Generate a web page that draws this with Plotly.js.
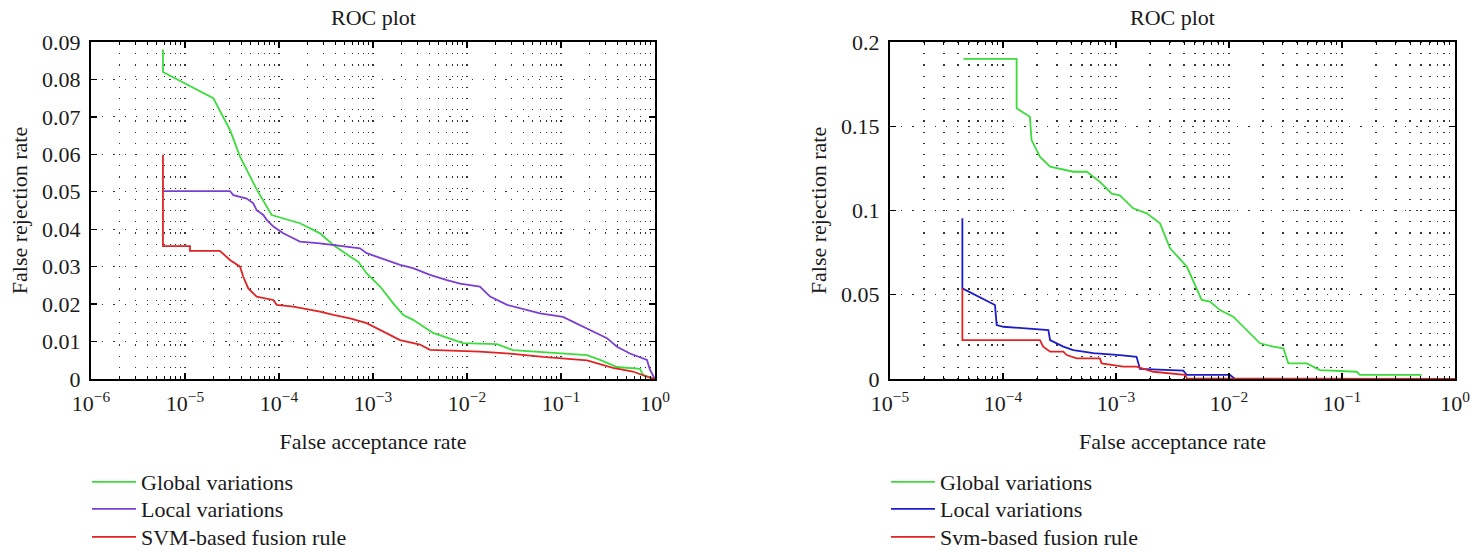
<!DOCTYPE html>
<html>
<head>
<meta charset="utf-8">
<script src="https://cdn.plot.ly/plotly-3.0.1.min.js"></script>
<style>html,body{margin:0;padding:0;background:#fff;}#chart{width:1476px;height:553px;}</style>
</head>
<body>
<div id="chart"></div>
<script>
// ---------- Left panel data ----------
const leftGlobalX = [5.83e-6, 5.83e-6, 2.0e-5, 3.01e-5, 3.85e-5, 5.83e-5, 8.35e-5, 1.67e-4, 2.73e-4, 3.78e-4, 5.69e-4, 6.98e-4, 8.57e-4, 1.19e-3, 1.64e-3, 2.10e-3, 2.67e-3, 4.35e-3, 9.06e-3, 2.08e-2, 3.08e-2, 8.22e-2, 0.189, 0.260, 0.394, 0.692, 0.745, 1];
const leftGlobalY = [0.088, 0.082, 0.075, 0.0665, 0.0594, 0.0505, 0.0438, 0.0416, 0.0389, 0.0358, 0.0327, 0.0313, 0.0282, 0.0247, 0.0202, 0.0171, 0.0158, 0.0123, 0.0096, 0.0093, 0.0077, 0.0069, 0.0064, 0.0051, 0.0032, 0.0027, 0.0011, 0];

const leftLocalX = [5.83e-6, 3.01e-5, 3.27e-5, 4.53e-5, 5.33e-5, 5.78e-5, 6.81e-5, 7.40e-5, 8.71e-5, 1.11e-4, 1.42e-4, 1.67e-4, 2.73e-4, 3.78e-4, 7.28e-4, 8.57e-4, 1.29e-3, 1.94e-3, 2.67e-3, 4.04e-3, 6.12e-3, 8.43e-3, 1.37e-2, 1.76e-2, 2.67e-2, 4.35e-2, 5.98e-2, 0.105, 0.159, 0.219, 0.308, 0.394, 0.542, 0.822, 0.885, 1];
const leftLocalY = [0.0502, 0.0502, 0.0491, 0.0482, 0.0469, 0.0451, 0.0438, 0.0425, 0.0407, 0.0389, 0.0376, 0.0367, 0.0362, 0.0358, 0.0349, 0.0336, 0.0320, 0.0305, 0.0296, 0.0278, 0.0264, 0.0255, 0.0247, 0.0220, 0.0198, 0.0184, 0.0175, 0.0166, 0.0144, 0.0126, 0.0109, 0.0086, 0.0068, 0.0051, 0.0024, 0];

const leftFusionX = [5.83e-6, 5.83e-6, 1.13e-5, 1.13e-5, 2.35e-5, 3.01e-5, 3.85e-5, 4.17e-5, 4.71e-5, 5.79e-5, 8.69e-5, 9.46e-5, 1.42e-4, 2.73e-4, 3.78e-4, 5.69e-4, 8.57e-4, 1.29e-3, 1.94e-3, 3.16e-3, 4.04e-3, 1.37e-2, 2.86e-2, 6.44e-2, 0.189, 0.357, 0.583, 0.822, 0.953, 1];
const leftFusionY = [0.0598, 0.0355, 0.0355, 0.0342, 0.0342, 0.0318, 0.0300, 0.0273, 0.0242, 0.0220, 0.0211, 0.0198, 0.0193, 0.0180, 0.0171, 0.0162, 0.0149, 0.0126, 0.0104, 0.0092, 0.0078, 0.0073, 0.0068, 0.0059, 0.0050, 0.0030, 0.0020, 0.0006, 0, 0];

// ---------- Right panel data ----------
const rightGlobalX = [4.46e-5, 1.32e-4, 1.32e-4, 1.73e-4, 1.79e-4, 2.12e-4, 2.61e-4, 4.19e-4, 5.51e-4, 7.21e-4, 9.16e-4, 1.08e-3, 1.42e-3, 1.87e-3, 2.45e-3, 3.01e-3, 4.23e-3, 5.73e-3, 6.79e-3, 8.32e-3, 1.09e-2, 1.44e-2, 1.88e-2, 2.47e-2, 3.03e-2, 3.35e-2, 4.88e-2, 6.38e-2, 0.135, 0.144, 0.507];
const rightGlobalY = [0.190, 0.190, 0.1607, 0.1557, 0.1418, 0.1319, 0.126, 0.123, 0.123, 0.117, 0.110, 0.109, 0.1013, 0.0983, 0.0924, 0.0776, 0.0667, 0.0469, 0.0459, 0.0409, 0.0370, 0.0291, 0.0212, 0.0192, 0.0182, 0.0093, 0.0093, 0.0053, 0.0043, 0.0024, 0.0024];

const rightLocalX = [4.37e-5, 4.37e-5, 8.49e-5, 8.79e-5, 1.01e-4, 1.51e-4, 2.52e-4, 2.61e-4, 3.42e-4, 4.19e-4, 6.30e-4, 1.08e-3, 1.52e-3, 1.63e-3, 3.94e-3, 4.23e-3, 1.02e-2, 1.13e-2, 1];
const rightLocalY = [0.0954, 0.0538, 0.0439, 0.0320, 0.0310, 0.0300, 0.0290, 0.0231, 0.0192, 0.0172, 0.0153, 0.0142, 0.0132, 0.0060, 0.0050, 0.0024, 0.0024, 0, 0];

const rightFusionX = [4.37e-5, 4.37e-5, 2.12e-4, 2.27e-4, 2.61e-4, 3.42e-4, 3.66e-4, 4.49e-4, 7.21e-4, 7.46e-4, 1.16e-3, 1.52e-3, 2.14e-3, 4.08e-3, 4.23e-3, 1];
const rightFusionY = [0.0538, 0.0231, 0.0231, 0.0192, 0.0162, 0.0162, 0.0142, 0.0122, 0.0122, 0.0093, 0.0073, 0.0073, 0.0043, 0.0024, 0.0004, 0];

const leftNames = ["Global variations", "Local variations", "SVM-based fusion rule"];
const rightNames = ["Global variations", "Local variations", "Svm-based fusion rule"];
const leftColors = ["#3ddc3d", "#7a3fd0", "#e02424"];
const rightColors = ["#3ddc3d", "#1c1cc8", "#e02424"];

const leftDecades = [1e-6, 1e-5, 1e-4, 1e-3, 1e-2, 1e-1, 1];
const leftDecadeText = ["10<sup>−6</sup>", "10<sup>−5</sup>", "10<sup>−4</sup>", "10<sup>−3</sup>", "10<sup>−2</sup>", "10<sup>−1</sup>", "10<sup>0</sup>"];
const rightDecades = [1e-5, 1e-4, 1e-3, 1e-2, 1e-1, 1];
const rightDecadeText = ["10<sup>−5</sup>", "10<sup>−4</sup>", "10<sup>−3</sup>", "10<sup>−2</sup>", "10<sup>−1</sup>", "10<sup>0</sup>"];

const plotTitle = "ROC plot";
const xTitle = "False acceptance rate";
const yTitle = "False rejection rate";

function minorVals(lo, hi) {
  const v = [];
  for (let e = lo; e < hi; e++) for (let d = 2; d <= 9; d++) v.push(d * Math.pow(10, e));
  return v;
}

const FONT = "Liberation Serif, Times New Roman, serif";
const FS = 22;
const TXT = "#1a1a1a";
const GRIDC = "#333";
const DASH = "1.2px,10px";

function mk(x, y, name, color, xa, ya, leg) {
  return {x: x, y: y, name: name, type: "scatter", mode: "lines",
    line: {color: color, width: 1.8}, xaxis: xa, yaxis: ya, legend: leg, hoverinfo: "skip"};
}

const data = [
  mk(leftGlobalX, leftGlobalY, leftNames[0], leftColors[0], "x", "y", "legend"),
  mk(leftLocalX, leftLocalY, leftNames[1], leftColors[1], "x", "y", "legend2"),
  mk(leftFusionX, leftFusionY, leftNames[2], leftColors[2], "x", "y", "legend3"),
  mk(rightGlobalX, rightGlobalY, rightNames[0], rightColors[0], "x2", "y2", "legend4"),
  mk(rightLocalX, rightLocalY, rightNames[1], rightColors[1], "x2", "y2", "legend5"),
  mk(rightFusionX, rightFusionY, rightNames[2], rightColors[2], "x2", "y2", "legend6")
];

function xAxis(domain, lo, hi, vals, text, anchor) {
  return {
    domain: domain, type: "log", range: [lo, hi], anchor: anchor,
    tickmode: "array", tickvals: vals, ticktext: text,
    ticks: "inside", ticklen: 6, tickwidth: 1.3, tickcolor: "#000",
    showline: true, linecolor: "#000", linewidth: 2, mirror: "ticks",
    showgrid: true, gridcolor: GRIDC, gridwidth: 1.2, griddash: DASH,
    zeroline: false, automargin: false, ticklabelstandoff: 4,
    minor: {tickmode: "array", tickvals: minorVals(lo, hi), ticks: "inside", ticklen: 3,
      tickcolor: "#000", tickwidth: 1, showgrid: true, gridcolor: GRIDC, gridwidth: 1.2, griddash: DASH},
    tickfont: {family: FONT, size: FS, color: TXT},
    title: {text: xTitle, font: {family: FONT, size: FS, color: TXT}, standoff: 18}
  };
}
function yAxis(domain, hi, dt, anchor) {
  return {
    domain: domain, range: [0, hi], dtick: dt, tick0: 0, anchor: anchor,
    ticks: "inside", ticklen: 6, tickwidth: 1.3, tickcolor: "#000",
    showline: true, linecolor: "#000", linewidth: 2, mirror: "ticks",
    showgrid: true, gridcolor: GRIDC, gridwidth: 1.2, griddash: DASH,
    zeroline: false, automargin: false, ticklabelstandoff: 4,
    tickfont: {family: FONT, size: FS, color: TXT},
    title: {text: yTitle, font: {family: FONT, size: FS, color: TXT}, standoff: 8}
  };
}

function leg(xpx, ypx) {
  return {x: xpx / 1476, y: 1 - ypx / 553, xanchor: "left", yanchor: "middle",
    font: {family: FONT, size: FS, color: TXT}, bgcolor: "rgba(0,0,0,0)", itemwidth: 44};
}

function note(text, xpx, ypx) {
  return {text: text, xref: "paper", yref: "paper", x: xpx / 1476, y: 1 - ypx / 553,
    xanchor: "center", yanchor: "middle", showarrow: false, font: {family: FONT, size: FS, color: TXT}};
}

const ydom = [1 - 379 / 553, 1 - 42 / 553];
const layout = {
  width: 1476, height: 553,
  margin: {l: 0, r: 0, t: 0, b: 0, autoexpand: false},
  paper_bgcolor: "#fff", plot_bgcolor: "#fff",
  xaxis: xAxis([91 / 1476, 655 / 1476], -6, 0, leftDecades, leftDecadeText, "y"),
  yaxis: yAxis(ydom, 0.09, 0.01, "x"),
  xaxis2: xAxis([890 / 1476, 1455 / 1476], -5, 0, rightDecades, rightDecadeText, "y2"),
  yaxis2: yAxis(ydom, 0.2, 0.05, "x2"),
  legend: leg(87, 482), legend2: leg(87, 509), legend3: leg(87, 537),
  legend4: leg(886, 482), legend5: leg(886, 509), legend6: leg(886, 537),
  showlegend: true,
  annotations: [note(plotTitle, 373, 17), note(plotTitle, 1172, 17)]
};

Plotly.newPlot("chart", data, layout, {staticPlot: true, displayModeBar: false});
</script>
</body>
</html>
